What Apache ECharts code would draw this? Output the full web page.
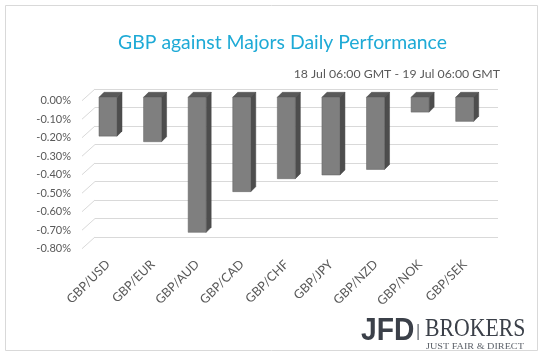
<!DOCTYPE html>
<html>
<head>
<meta charset="utf-8">
<script src="https://cdn.jsdelivr.net/npm/echarts@6/dist/echarts.min.js"></script>
<style>
  html, body { margin: 0; padding: 0; background: #fff; }
  #chart { width: 545px; height: 359px; }
</style>
</head>
<body>
<div id="chart"></div>
<script>
// data (percent)
const pairs = ['GBP/USD', 'GBP/EUR', 'GBP/AUD', 'GBP/CAD', 'GBP/CHF', 'GBP/JPY', 'GBP/NZD', 'GBP/NOK', 'GBP/SEK'];
const changes = [-0.21, -0.24, -0.73, -0.51, -0.44, -0.42, -0.39, -0.08, -0.13];
const yTicks = [0, -0.1, -0.2, -0.3, -0.4, -0.5, -0.6, -0.7, -0.8];

const FONT = 'Lato, "Open Sans", sans-serif';
const DEPTH = 5; // bar side depth in px

const chart = echarts.init(document.getElementById('chart'));

chart.setOption({
  animation: false,
  backgroundColor: '#fff',
  grid: [
    // front plane: y labels
    { left: 82, top: 100.7, width: 1, height: 148 },
    // bars plane
    { left: 85.7, top: 97.3, width: 401.3, height: 148 },
    // back wall
    { left: 95, top: 89, width: 403, height: 148 }
  ],
  xAxis: [
    { gridIndex: 0, type: 'value', show: false, min: 0, max: 1 },
    {
      gridIndex: 1, type: 'category', data: pairs,
      axisLine: { show: false }, axisTick: { show: false },
      axisLabel: { rotate: 45, interval: 0, margin: 17, color: '#595959', fontSize: 12.5, fontFamily: FONT }
    },
    { gridIndex: 2, type: 'value', show: false, min: 0, max: 1 }
  ],
  yAxis: [
    {
      gridIndex: 0, type: 'value', min: -0.8, max: 0, interval: 0.1,
      axisLine: { show: false }, axisTick: { show: false }, splitLine: { show: false },
      axisLabel: {
        margin: 11, color: '#595959', fontSize: 11, fontFamily: FONT,
        formatter: v => v.toFixed(2) + '%'
      }
    },
    { gridIndex: 1, type: 'value', min: -0.8, max: 0, show: false },
    {
      gridIndex: 2, type: 'value', min: -0.8, max: 0, interval: 0.1,
      axisLine: { show: false }, axisTick: { show: false }, axisLabel: { show: false },
      splitLine: { lineStyle: { color: '#d9d9d9', width: 1 } }
    }
  ],
  series: [
    {
      // side-wall lines joining each label to the back wall
      type: 'custom',
      xAxisIndex: 2, yAxisIndex: 2,
      data: yTicks.map(v => [0, v]),
      silent: true,
      renderItem: (params, api) => {
        const p = api.coord([0, api.value(1)]);
        return {
          type: 'line',
          shape: { x1: p[0] - 13, y1: p[1] + 11.7, x2: p[0], y2: p[1] },
          style: { stroke: '#d9d9d9', lineWidth: 1 }
        };
      },
      z: 1
    },
    {
      type: 'custom',
      xAxisIndex: 1, yAxisIndex: 1,
      data: changes.map((v, i) => [i, v]),
      renderItem: (params, api) => {
        const c = api.coord([api.value(0), 0]);
        const e = api.coord([api.value(0), api.value(1)]);
        const w = api.size([1, 0])[0] * 0.404;
        const x0 = c[0] - w / 2, x1 = c[0] + w / 2;
        const y0 = c[1], y1 = e[1];
        return {
          type: 'group',
          children: [
            {
              type: 'polygon',
              shape: { points: [[x0, y0], [x0 + DEPTH, y0 - DEPTH], [x1 + DEPTH, y0 - DEPTH], [x1, y0]] },
              style: { fill: '#595959', stroke: '#4a4a4a', lineWidth: 0.5 }
            },
            {
              type: 'polygon',
              shape: { points: [[x1, y0], [x1 + DEPTH, y0 - DEPTH], [x1 + DEPTH, y1 - DEPTH], [x1, y1]] },
              style: { fill: '#4d4d4d', stroke: '#454545', lineWidth: 0.5 }
            },
            {
              type: 'rect',
              shape: { x: x0, y: y0, width: w, height: y1 - y0 },
              style: { fill: '#7f7f7f', stroke: '#5e5e5e', lineWidth: 0.5 }
            }
          ]
        };
      },
      z: 3
    }
  ],
  graphic: [
    {
      type: 'rect', silent: true,
      shape: { x: 5.5, y: 5.5, width: 532, height: 345 },
      style: { fill: 'none', stroke: '#d9d9d9', lineWidth: 1 }
    },
    {
      type: 'text', x: 282.5, y: 43,
      style: { text: 'GBP against Majors Daily Performance', fill: '#1eaad6', font: '19.4px ' + FONT, textAlign: 'center', textVerticalAlign: 'middle' }
    },
    {
      type: 'text', x: 500, y: 74.5,
      style: { text: '18 Jul 06:00 GMT - 19 Jul 06:00 GMT', fill: '#595959', font: '12.3px ' + FONT, textAlign: 'right', textVerticalAlign: 'middle' }
    },
    // logo
    {
      type: 'text', x: 361, y: 331, scaleX: 0.91,
      style: { text: 'JFD', fill: '#3b4049', font: 'bold 31px "Liberation Sans", sans-serif', textAlign: 'left', textVerticalAlign: 'middle' }
    },
    {
      type: 'rect', shape: { x: 417.5, y: 324, width: 1.2, height: 16 },
      style: { fill: '#5b6068' }
    },
    {
      type: 'text', x: 425, y: 329, scaleX: 0.87,
      style: { text: 'BROKERS', fill: '#3b4049', font: '25px "Liberation Serif", serif', textAlign: 'left', textVerticalAlign: 'middle' }
    },
    {
      type: 'text', x: 426, y: 347, scaleX: 1.13,
      style: { text: 'JUST FAIR & DIRECT', fill: '#5b6068', font: '9px "Liberation Serif", serif', textAlign: 'left', textVerticalAlign: 'middle' }
    }
  ]
});
</script>
</body>
</html>
